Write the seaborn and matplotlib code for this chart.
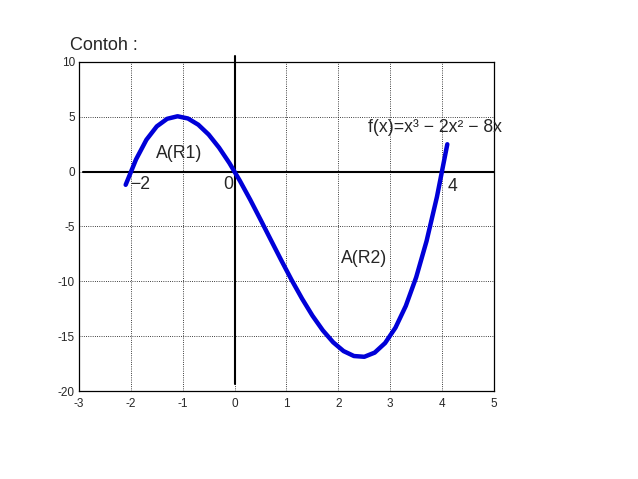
import numpy as np
import pandas as pd
import seaborn as sns
import matplotlib
matplotlib.use("Agg")
import matplotlib.pyplot as plt

# values
x_vals = [-2.1, -1.9, -1.7, -1.5, -1.3, -1.1, -0.9, -0.7, -0.5, -0.3, -0.1,
          0.1, 0.3, 0.5, 0.7, 0.9, 1.1, 1.3, 1.5, 1.7, 1.9, 2.1, 2.3, 2.5,
          2.7, 2.9, 3.1, 3.3, 3.5, 3.7, 3.9, 4.1]
y_vals = [-1.2, 1.12, 2.91, 4.13, 4.82, 5.05, 4.85, 4.28, 3.38, 2.19, 0.78,
          -0.82, -2.55, -4.38, -6.24, -8.09, -9.89, -11.58, -13.13, -14.47,
          -15.56, -16.36, -16.81, -16.88, -16.5, -15.63, -14.23, -12.24,
          -9.63, -6.33, -2.3, 2.5]

x_ticks = [-3, -2, -1, 0, 1, 2, 3, 4, 5]
y_ticks = [-20, -15, -10, -5, 0, 5, 10]

df = pd.DataFrame({"x": x_vals, "y": y_vals})

sns.set_style("white")
plt.rcParams['font.family'] = ['Liberation Sans', 'DejaVu Sans']

fig = plt.figure(figsize=(6.38, 4.79), dpi=100)
ax = fig.add_axes([0.1238, 0.1837, 0.6505, 0.6869])

sns.lineplot(data=df, x="x", y="y", sort=False, estimator=None,
             color="#0000d8", linewidth=3.2, ax=ax, zorder=4)

# axis lines through the origin
ax.plot([-2.92, 5], [0, 0], color="black", lw=1.5, zorder=3)
ax.plot([0, 0], [-19.4, 10.5], color="black", lw=1.5, zorder=3, clip_on=False)

ax.set_xlim(-3, 5)
ax.set_ylim(-20, 10)
ax.set_xticks(x_ticks)
ax.set_yticks(y_ticks)
ax.set_xticklabels([str(t) for t in x_ticks])
ax.set_yticklabels([str(t) for t in y_ticks])
ax.tick_params(labelsize=8.5, direction="in", length=3, color="black")
ax.tick_params(axis="x", pad=5)
ax.tick_params(axis="y", pad=3)
ax.grid(True, color="black", linestyle=":", linewidth=0.6)
ax.set_xlabel("")
ax.set_ylabel("")
for s in ax.spines.values():
    s.set_color("black")
    s.set_linewidth(0.9)

# annotations
fs = 12.7
ax.text(-1.52, 1.66, "A(R1)", fontsize=fs, va="center")
ax.text(-2.02, -1.21, "\u22122", fontsize=fs, va="center")
ax.text(-0.225, -1.21, "0", fontsize=fs, va="center")
ax.text(4.11, -1.39, "4", fontsize=fs, va="center")
ax.text(2.57, 4.03, "f(x)=x\u00b3 \u2212 2x\u00b2 \u2212 8x", fontsize=fs, va="center")
ax.text(2.05, -7.96, "A(R2)", fontsize=fs, va="center")

fig.text(70 / 638, 1 - 46 / 479, "Contoh :", fontsize=13, va="center")

fig.savefig("out.png", dpi=100, facecolor="white")
